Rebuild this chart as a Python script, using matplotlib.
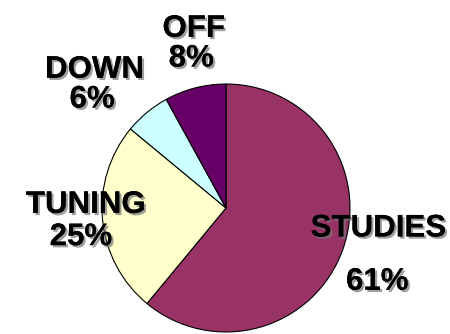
import matplotlib
matplotlib.use("Agg")
import matplotlib.pyplot as plt
import matplotlib.patheffects as pe

# Share of time per activity
labels = ['STUDIES', 'TUNING', 'DOWN', 'OFF']
shares = [61, 25, 6, 8]
colors = ['#993366', '#FFFFCC', '#CCFFFF', '#660066']

# label / percent text positions in pie-radius units
name_pos = [(1.23, -0.165), (-1.13, 0.025), (-1.06, 1.115), (-0.26, 1.445)]
pct_pos = [(1.22, -0.595), (-1.17, -0.235), (-1.08, 0.875), (-0.28, 1.205)]

fig = plt.figure(figsize=(4.5, 3.34), dpi=100)
ax = fig.add_axes([0.2267, 0.006, 0.551, 0.7425])

ax.pie(shares, colors=colors, startangle=90, counterclock=False, radius=1,
       wedgeprops=dict(edgecolor='black', linewidth=0.8))
ax.set_xlim(-1, 1)
ax.set_ylim(-1, 1)
ax.set_aspect('equal')
ax.axis('off')

shadow = [pe.withSimplePatchShadow(offset=(1.6, -1.6), shadow_rgbFace='#777777', alpha=0.7),
          pe.Normal()]
font = dict(family=['Liberation Sans', 'DejaVu Sans'], weight='bold', size=22.5)

for name, pct, (nx, ny), (px, py) in zip(labels, shares, name_pos, pct_pos):
    ax.text(nx, ny, name, ha='center', va='center', clip_on=False,
            path_effects=shadow, **font)
    ax.text(px, py, f'{pct}%', ha='center', va='center', clip_on=False,
            path_effects=shadow, **font)

fig.savefig('out.png', dpi=100)
